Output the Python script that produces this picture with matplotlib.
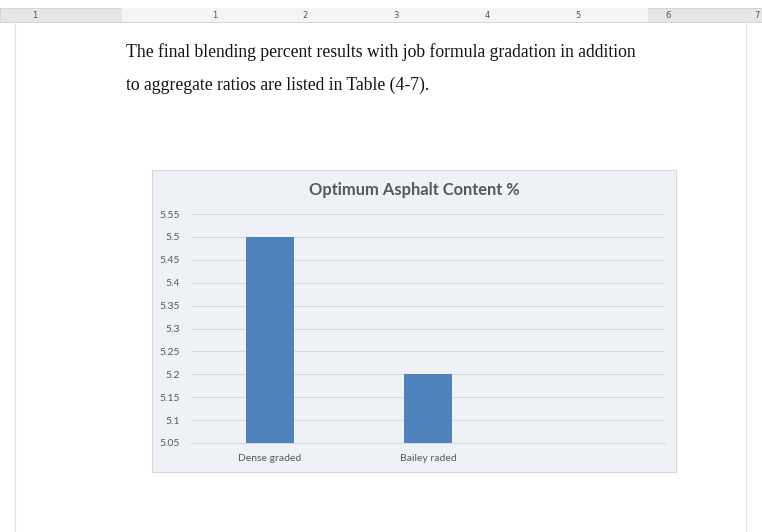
import matplotlib.pyplot as plt
from matplotlib.patches import Rectangle

# chart data
categories = ['Dense graded', 'Bailey raded']
asphalt_content = [5.5, 5.2]
y_ticks = [5.05, 5.1, 5.15, 5.2, 5.25, 5.3, 5.35, 5.4, 5.45, 5.5, 5.55]
title = 'Optimum Asphalt Content %'

# document text around the chart
doc_lines = [
    'The final blending percent results with job formula gradation in addition',
    'to aggregate ratios are listed in Table (4-7).',
]
ruler_labels = ['1', '1', '2', '3', '4', '5', '6', '7']


def main():
    W, H = 762, 532
    fig = plt.figure(figsize=(W / 100, H / 100), dpi=100)
    fig.patch.set_facecolor('white')

    # ruler strip at the top
    fig.patches.append(Rectangle((0, 1 - 22 / H), 1, 14 / H, transform=fig.transFigure,
                                 facecolor='#e6e6e6', edgecolor='#d0d0d0', lw=0.6, zorder=-2))
    fig.patches.append(Rectangle((122 / W, 1 - 22 / H), (648 - 122) / W, 14 / H,
                                 transform=fig.transFigure, facecolor='#f4f4f4',
                                 edgecolor='none', zorder=-2))
    ruler_x = [35, 215, 305, 396, 487, 578, 668, 757]
    for x, lab in zip(ruler_x, ruler_labels):
        fig.text(x / W, 1 - 15 / H, lab, ha='center', va='center', fontsize=6,
                 color='#555555', family='DejaVu Sans')

    # page margins
    fig.add_artist(plt.Line2D([15 / W, 15 / W], [0, 1 - 22 / H], color='#e0e0e0', lw=0.8))
    fig.add_artist(plt.Line2D([746 / W, 746 / W], [0, 1 - 22 / H], color='#e0e0e0', lw=0.8))

    # body text
    for i, line in enumerate(doc_lines):
        fig.text(126 / W, 1 - (52 + 33 * i) / H, line, ha='left', va='center',
                 fontsize=12.7, family='Liberation Serif', color='#111111')

    # chart frame
    fig.patches.append(Rectangle((152 / W, 1 - 472 / H), (676 - 152) / W, (472 - 170) / H,
                                 transform=fig.transFigure, facecolor='#eef1f6',
                                 edgecolor='#d4d8de', lw=0.8, zorder=-2))
    fig.text(414 / W, 1 - 190 / H, title, ha='center', va='center', fontsize=11.9,
             fontweight='bold', color='#595959', family='Lato')

    ax = fig.add_axes([191 / W, 1 - 443 / H, (665 - 191) / W, (443 - 214) / H])
    ax.set_facecolor('none')
    x = list(range(len(categories)))
    ax.bar(x, asphalt_content, width=0.3, color='#4f81bd', zorder=3)
    ax.set_xlim(-0.5, 2.5)
    ax.set_ylim(5.05, 5.55)
    ax.set_yticks(y_ticks)
    ax.set_yticklabels([f'{v:g}' for v in y_ticks])
    ax.set_xticks(x)
    ax.set_xticklabels(categories)
    ax.grid(axis='y', color='#d9d9d9', lw=0.8, zorder=0)
    for s in ['top', 'right', 'left']:
        ax.spines[s].set_visible(False)
    ax.spines['bottom'].set_color('#d9d9d9')
    ax.tick_params(axis='y', length=0, labelsize=7.5, colors='#595959', pad=8)
    ax.tick_params(axis='x', length=0, labelsize=7.5, colors='#595959', pad=8)
    for lab in ax.get_xticklabels() + ax.get_yticklabels():
        lab.set_family('Lato')

    plt.savefig('out.png', dpi=100)


if __name__ == '__main__':
    main()
